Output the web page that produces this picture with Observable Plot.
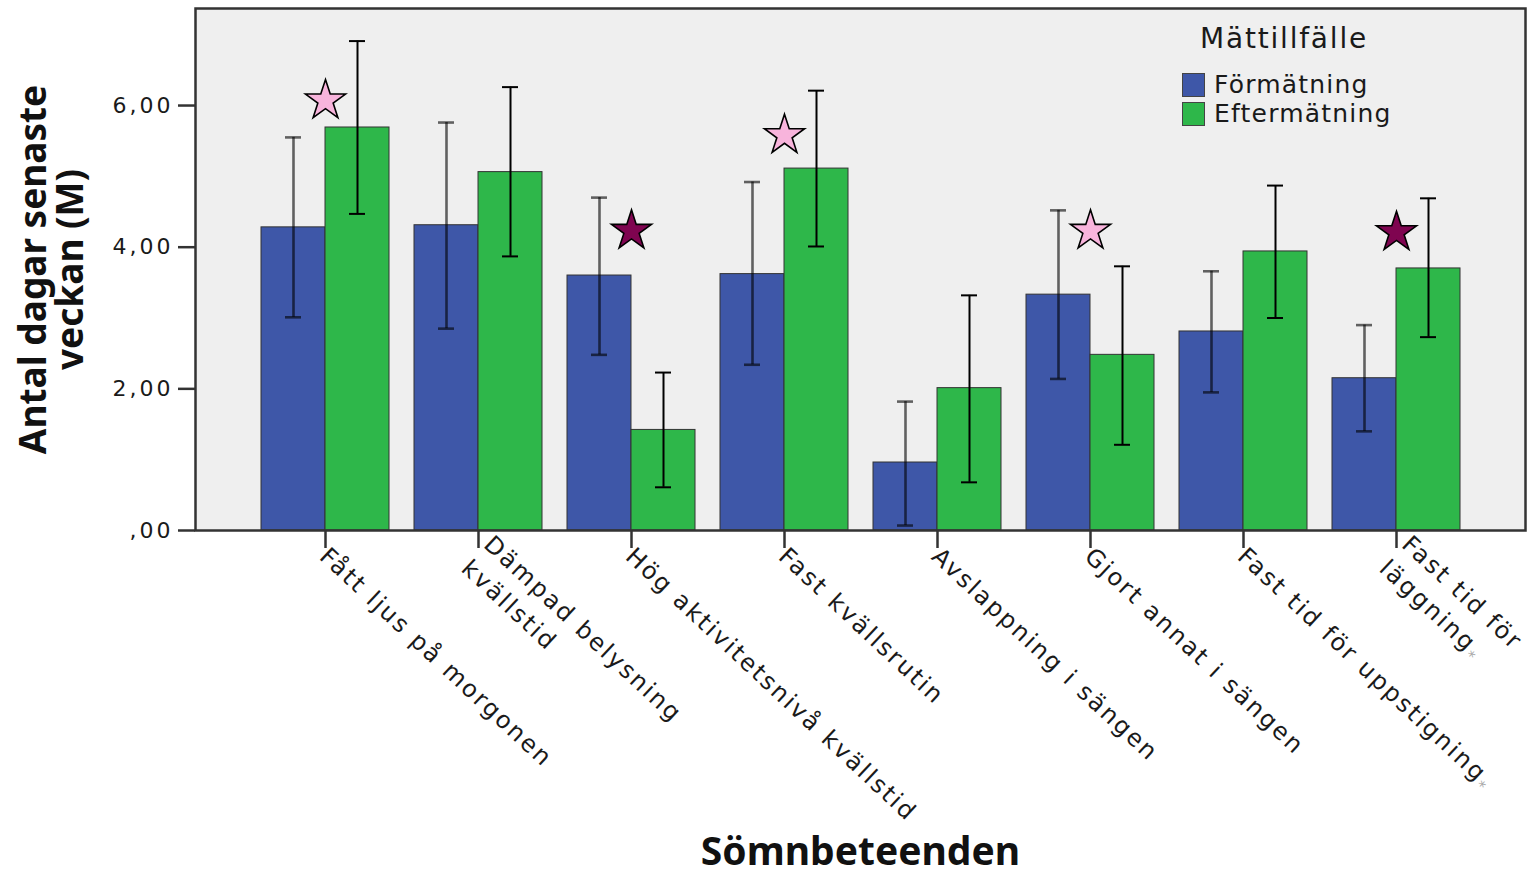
<!DOCTYPE html>
<html>
<head>
<meta charset="utf-8">
<script src="https://cdn.jsdelivr.net/npm/d3@7"></script>
<script src="https://cdn.jsdelivr.net/npm/@observablehq/plot@0.6"></script>
<style>
  body { margin: 0; background: #fff; }
  #wrap { position: relative; width: 1528px; height: 878px; overflow: hidden; }
  #legend { position: absolute; left: 1182px; top: 22px; font-family: "DejaVu Sans", sans-serif; color: #1a1a1a; }
  #legend .title { font-size: 28px; letter-spacing: 1.8px; padding-left: 18px; line-height: 34px; margin-bottom: 14px; }
  #legend .row { display: flex; align-items: center; height: 29px; font-size: 25px; letter-spacing: 1.2px; }
  #legend .sw { width: 23px; height: 24px; border: 1px solid #444; box-sizing: border-box; margin-right: 9px; }
  g[aria-label="y-axis tick label"], g[aria-label="y-axis tick label"] text { font-size: 22px; letter-spacing: 3px; }
  g[aria-label="x-axis tick label"] text { letter-spacing: 2.2px; }
</style>
</head>
<body>
<div id="wrap"></div>
<script>
// ---- data ----
const categories = [
  "Fått ljus på morgonen",
  "Dämpad belysning kvällstid",
  "Hög aktivitetsnivå kvällstid",
  "Fast kvällsrutin",
  "Avslappning i sängen",
  "Gjort annat i sängen",
  "Fast tid för uppstigning*",
  "Fast tid för läggning*"
];
const tickLabels = [
  "Fått ljus på morgonen",
  "Dämpad belysning\nkvällstid",
  "Hög aktivitetsnivå kvällstid",
  "Fast kvällsrutin",
  "Avslappning i sängen",
  "Gjort annat i sängen",
  "Fast tid för uppstigning*",
  "Fast tid för\nläggning*"
];
const series = ["Förmätning", "Eftermätning"];
const seriesColors = ["#3e57a8", "#2eb74a"];

const forMean = [4.28, 4.31, 3.60, 3.62, 0.96, 3.33, 2.81, 2.15];
const forLow  = [3.01, 2.85, 2.48, 2.34, 0.07, 2.14, 1.95, 1.40];
const forHigh = [5.55, 5.76, 4.70, 4.92, 1.82, 4.52, 3.66, 2.90];

const eftMean = [5.69, 5.06, 1.42, 5.11, 2.01, 2.48, 3.94, 3.70];
const eftLow  = [4.47, 3.87, 0.61, 4.01, 0.68, 1.21, 3.00, 2.73];
const eftHigh = [6.91, 6.26, 2.23, 6.21, 3.32, 3.73, 4.87, 4.69];

const starCategories = [categories[0], categories[2], categories[3], categories[5], categories[7]];
const starValues = [6.07, 4.23, 5.58, 4.23, 4.21];
const starKinds = ["ljus", "mörk", "ljus", "ljus", "mörk"];

const yTicks = [0, 2, 4, 6];
const yTitle = "Antal dagar senaste\nveckan (M)";
const xTitle = "Sömnbeteenden";
const legendTitle = "Mättillfälle";

// ---- tables built from the arrays ----
const before = categories.map((c, i) => ({cat: c, series: series[0], mean: forMean[i], lo: forLow[i], hi: forHigh[i]}));
const after = categories.map((c, i) => ({cat: c, series: series[1], mean: eftMean[i], lo: eftLow[i], hi: eftHigh[i]}));
const stars = starCategories.map((c, i) => ({cat: c, value: starValues[i], kind: starKinds[i]}));

// ---- layout ----
const W = 1528, H = 878, mL = 195, mR = 3, mT = 8, mB = 348;
const padIn = 0.165, padOut = 0.42;
const step = (W - mL - mR) / (categories.length - padIn + 2 * padOut);
const bw = step * (1 - padIn);
const half = bw / 2;
const cap = 16;

const fmt = d => d === 0 ? ",00" : d.toFixed(2).replace(".", ",");

function errorMarks(data, side, opts) {
  const center = side === 0 ? half / 2 : half + half / 2;
  const inL = center - cap / 2, inR = bw - center - cap / 2;
  return [
    Plot.ruleX(data, {x: "cat", y1: "lo", y2: "hi", dx: side === 0 ? -half / 2 : half / 2, ...opts}),
    Plot.tickY(data, {x: "cat", y: "lo", insetLeft: inL, insetRight: inR, ...opts}),
    Plot.tickY(data, {x: "cat", y: "hi", insetLeft: inL, insetRight: inR, ...opts})
  ];
}

const chart = Plot.plot({
  width: W, height: H,
  marginLeft: mL, marginRight: mR, marginTop: mT, marginBottom: mB,
  style: {fontFamily: "DejaVu Sans, sans-serif", background: "transparent", color: "#1a1a1a"},
  x: {type: "band", domain: categories, paddingInner: padIn, paddingOuter: padOut, align: 0.5, axis: null},
  y: {domain: [0, 7.37], axis: null},
  marks: [
    Plot.frame({fill: "#efefef"}),
    Plot.barY(before, {x: "cat", y: "mean", fill: seriesColors[0], insetRight: half, stroke: "#333", strokeWidth: 1}),
    Plot.barY(after, {x: "cat", y: "mean", fill: seriesColors[1], insetLeft: half, stroke: "#333", strokeWidth: 1}),
    ...errorMarks(before, 0, {stroke: "#000", strokeOpacity: 0.6, strokeWidth: 2.6}),
    ...errorMarks(after, 1, {stroke: "#000", strokeWidth: 2}),
    Plot.dot(stars.filter(d => d.kind === "ljus"), {x: "cat", y: "value", symbol: "star", r: 12.6, fill: "#f8b4dc", stroke: "#000", strokeWidth: 1.6}),
    Plot.dot(stars.filter(d => d.kind === "mörk"), {x: "cat", y: "value", symbol: "star", r: 12.6, fill: "#7f0450", stroke: "#000", strokeWidth: 1.6}),
    Plot.frame({stroke: "#333", strokeWidth: 2.5}),
    Plot.axisY({ticks: yTicks, tickFormat: fmt, tickSize: 17, tickPadding: 5, fontSize: 22, stroke: "#333", strokeWidth: 2.5, label: null}),
    Plot.axisX({tickSize: 18, tickPadding: 2, tickRotate: 43, fontSize: 24, lineHeight: 1.37,
      tickFormat: d => tickLabels[categories.indexOf(d)], stroke: "#333", strokeWidth: 2.5, label: null}),
    Plot.text([yTitle], {frameAnchor: "left", rotate: -90, dx: -142.5, fontSize: 37, fontWeight: "bold",
      fontFamily: "Noto Sans, sans-serif", lineHeight: 1.0, textAnchor: "middle", fill: "#111"}),
    Plot.text([xTitle], {frameAnchor: "bottom", dy: 334, fontSize: 39, fontWeight: "bold",
      fontFamily: "Noto Sans, sans-serif", fill: "#111"})
  ]
});

// small grey asterisks like the reference
d3.select(chart).selectAll('g[aria-label="x-axis tick label"] text').each(function () {
  const t = d3.select(this);
  const spans = t.selectAll("tspan");
  const target = spans.empty() ? t : d3.select(spans.nodes()[spans.size() - 1]);
  const s = target.text();
  if (s.endsWith("*")) {
    target.text(s.slice(0, -1));
    target.append("tspan").attr("fill", "#aaa").attr("font-size", "15px").attr("dy", "5").text("*");
  }
});

const wrap = document.getElementById("wrap");
wrap.appendChild(chart);

// legend
const legend = document.createElement("div");
legend.id = "legend";
legend.innerHTML = `<div class="title">${legendTitle}</div>` +
  series.map((s, i) => `<div class="row"><div class="sw" style="background:${seriesColors[i]}"></div>${s}</div>`).join("");
wrap.appendChild(legend);
</script>
</body>
</html>
